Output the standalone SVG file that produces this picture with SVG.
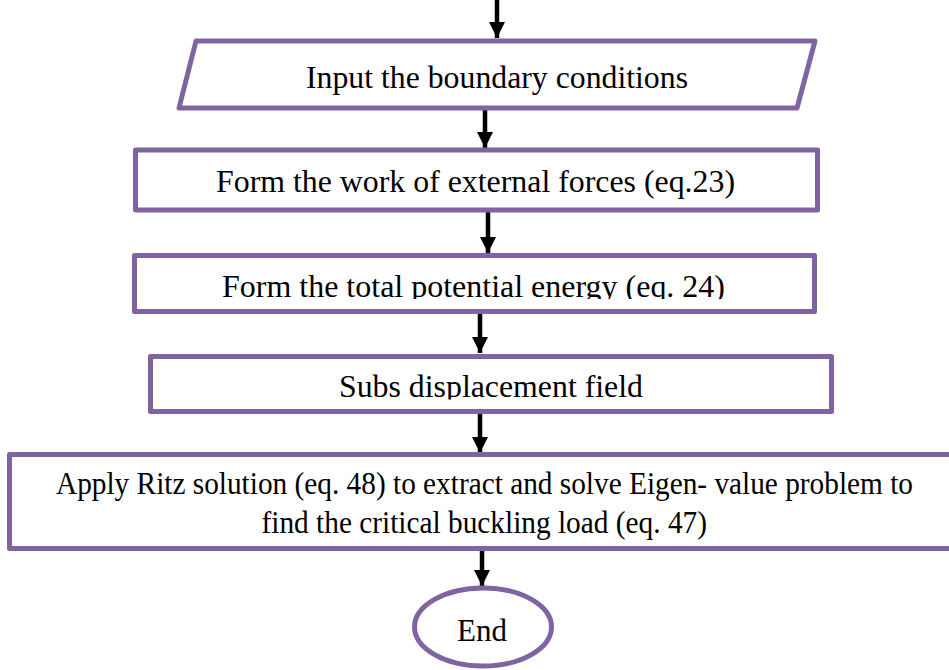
<svg xmlns="http://www.w3.org/2000/svg" width="949" height="670" viewBox="0 0 949 670">
<style>
.shape{fill:#fff;stroke:#8064A2;stroke-width:5;stroke-linejoin:round}
.lbl{font-family:"Liberation Serif","Times New Roman",Times,serif;font-size:31px;fill:#000}
.conn{stroke:#000;stroke-width:4.5;fill:none}
</style>
<defs>
<marker id="ah" markerUnits="userSpaceOnUse" markerWidth="18" markerHeight="16" refX="16" refY="8" orient="auto">
<path d="M0,0 L16,8 L0,16 Z" fill="#000"/>
</marker>
<clipPath id="c3"><rect x="130" y="250" width="700" height="49"/></clipPath>
<clipPath id="c4"><rect x="150" y="350" width="690" height="49.5"/></clipPath>
</defs>
<rect width="949" height="670" fill="#fff"/>
<g id="connectors">
<line class="conn" x1="497" y1="0" x2="497" y2="38" marker-end="url(#ah)"/>
<line class="conn" x1="485" y1="110" x2="485" y2="148" marker-end="url(#ah)"/>
<line class="conn" x1="488" y1="212" x2="488" y2="253" marker-end="url(#ah)"/>
<line class="conn" x1="480" y1="313" x2="480" y2="353" marker-end="url(#ah)"/>
<line class="conn" x1="480" y1="414" x2="480" y2="453" marker-end="url(#ah)"/>
<line class="conn" x1="482" y1="550" x2="482" y2="586" marker-end="url(#ah)"/>
</g>
<g id="input">
<polygon class="shape" points="196,41 815,41 797,108 179,108"/>
<text class="lbl" x="306" y="88" textLength="382" lengthAdjust="spacingAndGlyphs">Input the boundary conditions</text>
</g>
<g id="work">
<rect class="shape" x="135.5" y="150" width="682" height="60"/>
<text class="lbl" x="216" y="192" textLength="519" lengthAdjust="spacingAndGlyphs">Form the work of external forces (eq.23)</text>
</g>
<g id="energy">
<rect class="shape" x="134.5" y="255.5" width="680" height="56"/>
<text class="lbl" x="222" y="297" textLength="503" lengthAdjust="spacingAndGlyphs" clip-path="url(#c3)">Form the total potential energy (eq. 24)</text>
</g>
<g id="subs">
<rect class="shape" x="150.5" y="356.5" width="681" height="55"/>
<text class="lbl" x="339" y="397" textLength="304" lengthAdjust="spacingAndGlyphs" clip-path="url(#c4)">Subs displacement field</text>
</g>
<g id="ritz">
<rect class="shape" x="9.5" y="454.5" width="960" height="94"/>
<text class="lbl" x="56" y="494" textLength="857" lengthAdjust="spacingAndGlyphs">Apply Ritz solution (eq. 48) to extract and solve Eigen- value problem to</text>
<text class="lbl" x="261.5" y="533" textLength="445.5" lengthAdjust="spacingAndGlyphs">find the critical buckling load (eq. 47)</text>
</g>
<g id="end">
<ellipse class="shape" cx="483" cy="627" rx="68.5" ry="39"/>
<text class="lbl" x="457" y="641" textLength="50" lengthAdjust="spacingAndGlyphs">End</text>
</g>
</svg>
